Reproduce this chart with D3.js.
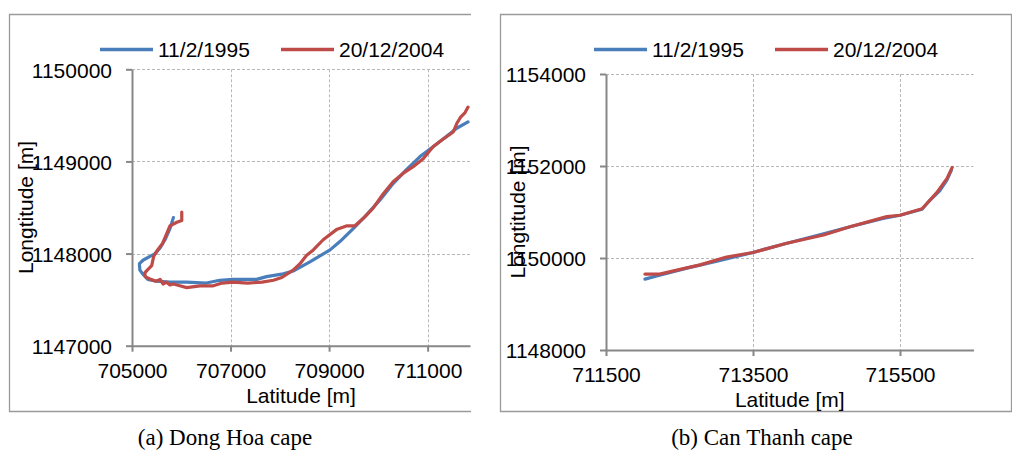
<!DOCTYPE html>
<html>
<head>
<meta charset="utf-8">
<script src="https://cdn.jsdelivr.net/npm/d3@7"></script>
<style>
  body { margin: 0; background: #fff; }
  svg { display: block; font-family: "Liberation Sans", Arial, sans-serif; }
</style>
</head>
<body>
<svg id="chart" width="1012" height="450"></svg>
<script>
// shoreline traces, [latitude, longitude] in metres
const seriesNames = ['11/2/1995', '20/12/2004'];
const seriesColors = ['#4a7ebb', '#be4b48'];

const dongHoa1995 = [
  [705840, 1148390], [705770, 1148270], [705670, 1148150], [705570, 1148060], [705470, 1148000],
  [705365, 1147970], [705230, 1147930], [705150, 1147890], [705160, 1147820], [705230, 1147770],
  [705320, 1147720], [705490, 1147700], [705770, 1147690], [706110, 1147690], [706510, 1147680],
  [706780, 1147710], [707050, 1147720], [707530, 1147720], [707730, 1147750], [708070, 1147780],
  [708270, 1147810], [708610, 1147910], [709020, 1148040], [709220, 1148130], [709490, 1148270],
  [709760, 1148420], [710030, 1148580], [710300, 1148760], [710570, 1148910], [710840, 1149050],
  [711110, 1149160], [711380, 1149270], [711590, 1149360], [711820, 1149430]
];
const dongHoa2004 = [
  [706010, 1148450], [706010, 1148360], [705910, 1148340], [705770, 1148300], [705700, 1148210],
  [705620, 1148110], [705520, 1148040], [705440, 1147970], [705400, 1147870], [705310, 1147820],
  [705260, 1147790], [705270, 1147750], [705380, 1147720], [705490, 1147700], [705570, 1147720],
  [705630, 1147670], [705700, 1147690], [705770, 1147660], [705840, 1147670], [705970, 1147650],
  [706110, 1147630], [706380, 1147650], [706650, 1147650], [706830, 1147680], [707050, 1147690],
  [707350, 1147680], [707640, 1147690], [707870, 1147710], [708040, 1147740], [708270, 1147820],
  [708410, 1147890], [708540, 1147980], [708680, 1148040], [708880, 1148150], [709150, 1148260],
  [709350, 1148300], [709520, 1148300], [709690, 1148380], [709890, 1148490], [710100, 1148650],
  [710300, 1148780], [710500, 1148870], [710700, 1148940], [710910, 1149030], [711110, 1149160],
  [711310, 1149240], [711520, 1149320], [711600, 1149420], [711670, 1149480], [711760, 1149530],
  [711820, 1149590]
];
const canThanh1995 = [
  [712030, 1149540], [712190, 1149610], [712600, 1149780], [713010, 1149930], [713500, 1150120],
  [713910, 1150300], [714370, 1150490], [714820, 1150680], [715270, 1150860], [715500, 1150930],
  [715800, 1151060], [715910, 1151260], [716040, 1151460], [716140, 1151700], [716200, 1151910]
];
const canThanh2004 = [
  [712030, 1149650], [712230, 1149650], [712420, 1149720], [712780, 1149850], [713140, 1150020],
  [713500, 1150120], [713960, 1150320], [714460, 1150500], [714820, 1150680], [715320, 1150900],
  [715500, 1150930], [715800, 1151070], [716000, 1151420], [716140, 1151730], [716210, 1151970]
];

const dongHoaXTicks = [705000, 707000, 709000, 711000];
const dongHoaYTicks = [1147000, 1148000, 1149000, 1150000];
const canThanhXTicks = [711500, 713500, 715500];
const canThanhYTicks = [1148000, 1150000, 1152000, 1154000];

const svg = d3.select('#chart');

function drawPanel(p) {
    var g = svg.append('g');

    // frame (the left figure is cropped on its right side)
    g.append('path')
        .attr('d', p.frame)
        .attr('fill', 'none')
        .attr('stroke', '#9a9a9a')
        .attr('stroke-width', 1.3);

    var x = d3.scaleLinear().domain(p.xDomain).range([p.left, p.right]);
    var y = d3.scaleLinear().domain(p.yDomain).range([p.bottom, p.top]);

    // dashed grid
    g.selectAll('line.hgrid').data(p.yTicks.slice(1)).enter().append('line')
        .attr('x1', p.left).attr('x2', p.right)
        .attr('y1', function(d) { return Math.round(y(d)) + 0.5; })
        .attr('y2', function(d) { return Math.round(y(d)) + 0.5; })
        .attr('stroke', '#b8b8b8').attr('stroke-dasharray', '3,2');
    g.selectAll('line.vgrid').data(p.xTicks.slice(1)).enter().append('line')
        .attr('y1', p.top).attr('y2', p.bottom)
        .attr('x1', function(d) { return Math.round(x(d)) + 0.5; })
        .attr('x2', function(d) { return Math.round(x(d)) + 0.5; })
        .attr('stroke', '#b8b8b8').attr('stroke-dasharray', '3,2');

    var fmt = d3.format('d');
    var yAxis = g.append('g').attr('transform', 'translate(' + p.left + ',0)')
        .call(d3.axisLeft(y).tickValues(p.yTicks).tickFormat(fmt).tickSize(6).tickSizeOuter(0).tickPadding(14));
    var xAxis = g.append('g').attr('transform', 'translate(0,' + p.bottom + ')')
        .call(d3.axisBottom(x).tickValues(p.xTicks).tickFormat(fmt).tickSize(6).tickSizeOuter(0).tickPadding(11.5));

    [xAxis, yAxis].forEach(function(a) {
        a.select('.domain').attr('stroke', '#878787').attr('stroke-width', 2);
        a.selectAll('.tick line').attr('stroke', '#878787').attr('stroke-width', 2);
        a.selectAll('.tick text')
            .attr('fill', '#000')
            .style('font-family', '"Liberation Sans", Arial, sans-serif')
            .style('font-size', '21px');
    });
    yAxis.selectAll('.tick text').attr('dy', '0.38em');

    var line = d3.line().x(function(d) { return x(d[0]); }).y(function(d) { return y(d[1]); });
    p.series.forEach(function(s, i) {
        g.append('path')
            .datum(s)
            .attr('d', line)
            .attr('fill', 'none')
            .attr('stroke', seriesColors[i])
            .attr('stroke-width', 3.2)
            .attr('stroke-linejoin', 'round')
            .attr('stroke-linecap', 'round');
    });

    // legend
    p.legendX.forEach(function(lx, i) {
        g.append('line')
            .attr('x1', lx).attr('x2', lx + 53)
            .attr('y1', 49.5).attr('y2', 49.5)
            .attr('stroke', seriesColors[i]).attr('stroke-width', 3.5);
        g.append('text')
            .attr('x', lx + 58).attr('y', 57)
            .attr('font-size', 21)
            .text(seriesNames[i]);
    });

    // axis titles
    g.append('text')
        .attr('x', (p.left + p.right) / 2).attr('y', p.bottom + 57)
        .attr('text-anchor', 'middle').attr('font-size', 21)
        .text('Latitude [m]');
    g.append('text')
        .attr('transform', 'translate(' + p.yTitleX + ',' + (p.top + p.bottom) / 2 + ') rotate(-90)')
        .attr('text-anchor', 'middle').attr('font-size', 21)
        .text('Longtitude [m]');

    // caption
    g.append('text')
        .attr('x', p.captionX).attr('y', 444.5)
        .attr('text-anchor', 'middle')
        .style('font-family', '"Liberation Serif", "Times New Roman", serif')
        .style('font-size', '23px')
        .text(p.caption);
}

drawPanel({
    frame: 'M471,14.5H9.5V411.5H471',
    xDomain: [705000, 711860], yDomain: [1147000, 1150000],
    left: 132, right: 470, top: 69.3, bottom: 345.7,
    xTicks: dongHoaXTicks, yTicks: dongHoaYTicks,
    series: [dongHoa1995, dongHoa2004],
    legendX: [100, 281],
    yTitleX: 33,
    caption: '(a) Dong Hoa cape', captionX: 225
});

drawPanel({
    frame: 'M500.5,14.5H1011.5V411.5H500.5Z',
    xDomain: [711500, 716500], yDomain: [1148000, 1154000],
    left: 606, right: 973.5, top: 74, bottom: 350,
    xTicks: canThanhXTicks, yTicks: canThanhYTicks,
    series: [canThanh1995, canThanh2004],
    legendX: [594, 775],
    yTitleX: 525,
    caption: '(b) Can Thanh cape', captionX: 762
});
</script>
</body>
</html>
